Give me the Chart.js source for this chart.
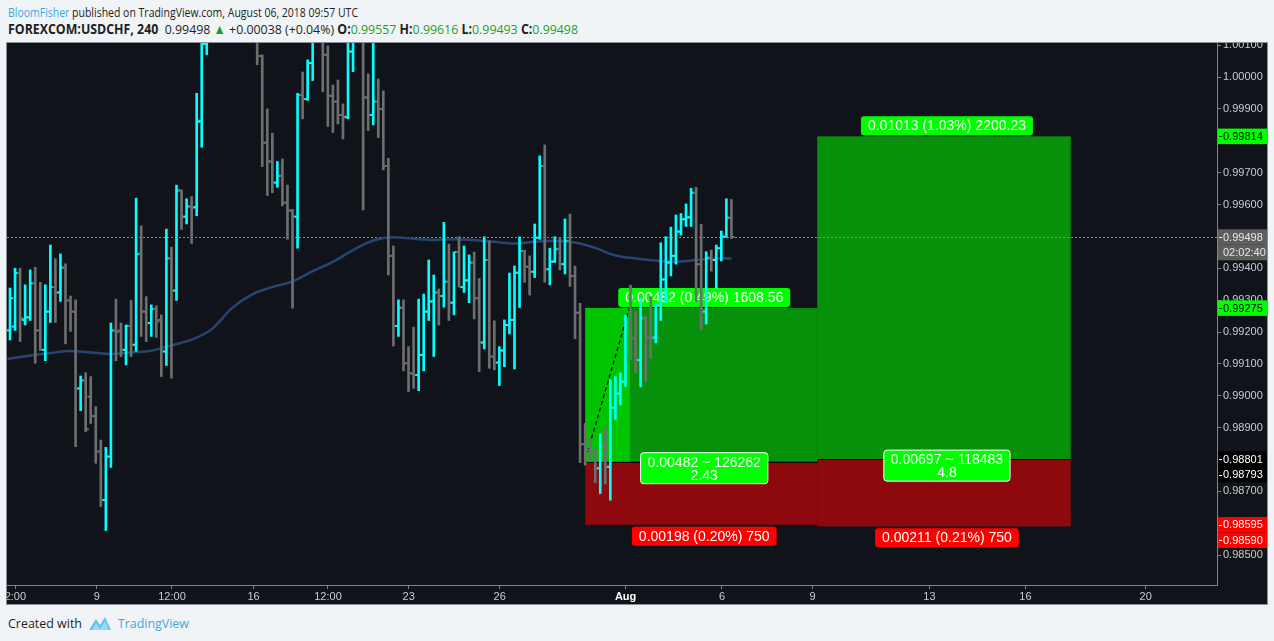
<!DOCTYPE html>
<html>
<head>
<meta charset="utf-8">
<script src="https://cdn.jsdelivr.net/npm/chart.js@4.4.0/dist/chart.umd.min.js"></script>
<style>
  html, body { margin: 0; padding: 0; background: #f1f4f7; }
  body { width: 1274px; height: 641px; position: relative; overflow: hidden; font-family: 'Open Sans', sans-serif; color: #1d1f23; }
  .fit { position: absolute; left: 8px; white-space: nowrap; display: inline-block; transform-origin: 0 50%; }
  #h1 { top: 3px; font-size: 13.5px; }
  #h2 { top: 20px; font-size: 13.5px; }
  #h1 .who { color: #3fa7dd; }
  #h2 b { font-weight: 700; }
  #h2 .g { color: #1f9f1f; }
  #wrap { position: absolute; left: 6px; top: 42px; width: 1260px; height: 561px; border: 1px solid #8b8f97; background: #10141a; }
  #foot { top: 614px; font-size: 13px; }
  #foot .tv { color: #3fa7dd; }
  #logo { position: absolute; left: 88px; top: 614px; }
</style>
</head>
<body>
<div id="h1" class="fit" data-w="350"><span class="who">BloomFisher</span> published on TradingView.com, August 06, 2018 09:57 UTC</div>
<div id="h2" class="fit" data-w="570"><b>FOREXCOM:USDCHF, 240</b>&nbsp; 0.99498 <span class="g">&#9650;</span> +0.00038 (+0.04%) <b>O:</b><span class="g">0.99557</span> <b>H:</b><span class="g">0.99616</span> <b>L:</b><span class="g">0.99493</span> <b>C:</b><span class="g">0.99498</span></div>
<div id="wrap"><canvas id="graph" width="1260" height="561"></canvas></div>
<div id="foot" class="fit" data-w="181">Created with <span style="display:inline-block;width:34px"></span><span class="tv">TradingView</span></div>
<svg id="logo" width="24" height="17" viewBox="0 0 24 17">
  <path d="M1 16 L8 5 L12 11 L17 3 L23 16 Z" fill="#64c3ec"/>
  <path d="M4 16 L8 9 L12 15 L17 7 L21 16 Z" fill="#9bd8f3"/>
</svg>
<script>
// bar index 1..144, 4h bars
var barOpen = [
  0.99205,0.99217,0.99385,0.99238,0.99246,0.99353,0.99205,0.99144,0.99264,0.99341,
  0.99324,0.99402,0.99299,0.99264,0.99023,0.99048,0.98997,0.98936,0.98825,0.98673,
  0.98809,0.99205,0.99205,0.99144,0.99219,0.99160,0.99447,0.99264,0.99228,0.99272,
  0.99238,0.99139,0.99431,0.99330,0.99644,0.99562,0.99594,0.99592,0.99863,1.00104,
  1.00210,1.00280,1.00230,1.00260,1.00340,1.00300,1.00250,1.00290,1.00240,1.00190,
  1.00066,0.99794,0.99735,0.99669,0.99690,0.99606,0.99581,0.99562,0.99944,0.99931,
  1.00044,1.00140,1.00200,1.00070,0.99941,0.99923,0.99881,0.99874,1.00080,1.00180,
  1.00200,0.99936,0.99881,0.99923,0.99900,0.99721,0.99439,0.99219,0.99276,0.99102,
  0.99070,0.99065,0.99128,0.99264,0.99296,0.99324,0.99313,0.99358,0.99292,0.99451,
  0.99341,0.99362,0.99418,0.99306,0.99167,0.99426,0.99123,0.99104,0.99142,0.99222,
  0.99238,0.99386,0.99454,0.99405,0.99389,0.99496,0.99721,0.99397,0.99421,0.99460,
  0.99413,0.99486,0.99376,0.99260,0.98848,0.98829,0.98826,0.98772,0.98840,0.98777,
  0.98962,0.99007,0.99044,0.99229,0.99180,0.99112,0.99243,0.99183,0.99183,0.99285,
  0.99365,0.99418,0.99439,0.99515,0.99554,0.99560,0.99637,0.99413,0.99264,0.99433,
  0.99426,0.99463,0.99499,0.99557
];
var barHigh = [
  0.99338,0.99400,0.99400,0.99348,0.99395,0.99403,0.99356,0.99348,0.99473,0.99430,
  0.99445,0.99414,0.99313,0.99301,0.99062,0.99072,0.99060,0.98966,0.98861,0.98838,
  0.99228,0.99303,0.99228,0.99222,0.99299,0.99620,0.99533,0.99311,0.99285,0.99282,
  0.99254,0.99523,0.99466,0.99661,0.99646,0.99618,0.99625,0.99949,1.00180,1.00260,
  1.00320,1.00350,1.00300,1.00380,1.00400,1.00360,1.00330,1.00340,1.00290,1.00230,
  1.00070,0.99900,0.99824,0.99735,0.99743,0.99661,0.99585,0.99949,1.00016,1.00054,
  1.00180,1.00260,1.00250,1.00098,0.99975,0.99991,0.99916,1.00150,1.00250,1.00280,
  1.00230,1.00010,1.00140,0.99994,0.99957,0.99745,0.99470,0.99301,0.99301,0.99154,
  0.99215,0.99303,0.99319,0.99426,0.99379,0.99335,0.99544,0.99476,0.99451,0.99499,
  0.99470,0.99442,0.99451,0.99368,0.99499,0.99486,0.99235,0.99154,0.99238,0.99385,
  0.99407,0.99499,0.99457,0.99439,0.99539,0.99753,0.99787,0.99463,0.99499,0.99496,
  0.99555,0.99570,0.99407,0.99290,0.98913,0.98866,0.98829,0.98880,0.98901,0.99049,
  0.99060,0.99072,0.99253,0.99347,0.99264,0.99305,0.99250,0.99311,0.99288,0.99480,
  0.99499,0.99529,0.99567,0.99572,0.99602,0.99651,0.99654,0.99538,0.99452,0.99457,
  0.99473,0.99517,0.99618,0.99616
];
var barLow = [
  0.99175,0.99205,0.99170,0.99222,0.99236,0.99102,0.99142,0.99110,0.99230,0.99230,
  0.99296,0.99163,0.99202,0.98840,0.98953,0.98887,0.98913,0.98788,0.98652,0.98577,
  0.98775,0.99110,0.99123,0.99097,0.99123,0.99139,0.99186,0.99170,0.99186,0.99183,
  0.99060,0.99095,0.99055,0.99299,0.99522,0.99539,0.99478,0.99565,0.99780,1.00070,
  1.00150,1.00190,1.00160,1.00220,1.00260,1.00200,1.00180,1.00210,1.00150,1.00039,
  0.99719,0.99628,0.99637,0.99654,0.99596,0.99491,0.99275,0.99463,0.99869,0.99927,
  0.99989,1.00130,0.99954,0.99845,0.99826,0.99853,0.99806,0.99869,1.00017,1.00140,
  0.99583,0.99832,0.99850,0.99810,0.99709,0.99379,0.99156,0.99186,0.99078,0.99013,
  0.99023,0.99016,0.99078,0.99236,0.99123,0.99222,0.99278,0.99236,0.99254,0.99341,
  0.99324,0.99292,0.99241,0.99076,0.99147,0.99086,0.99081,0.99032,0.99091,0.99194,
  0.99084,0.99277,0.99356,0.99316,0.99371,0.99491,0.99356,0.99348,0.99418,0.99395,
  0.99382,0.99343,0.99179,0.98790,0.98782,0.98798,0.98727,0.98693,0.98723,0.98672,
  0.98926,0.98971,0.99030,0.99112,0.99072,0.99028,0.99044,0.99117,0.99166,0.99236,
  0.99292,0.99376,0.99413,0.99504,0.99531,0.99531,0.99295,0.99208,0.99225,0.99391,
  0.99337,0.99423,0.99497,0.99493
];
var barClose = [
  0.99306,0.99385,0.99243,0.99246,0.99353,0.99205,0.99144,0.99264,0.99341,0.99324,
  0.99402,0.99299,0.99264,0.99023,0.99048,0.98895,0.98936,0.98825,0.98673,0.98809,
  0.99205,0.99200,0.99144,0.99219,0.99160,0.99444,0.99264,0.99228,0.99272,0.99233,
  0.99139,0.99431,0.99330,0.99644,0.99562,0.99594,0.99590,0.99860,1.00104,1.00210,
  1.00280,1.00230,1.00260,1.00340,1.00300,1.00250,1.00290,1.00240,1.00190,1.00066,
  0.99794,0.99735,0.99669,0.99690,0.99606,0.99581,0.99562,0.99944,0.99931,1.00044,
  1.00140,1.00200,1.00070,0.99941,0.99923,0.99881,0.99876,1.00080,1.00180,1.00220,
  0.99936,0.99881,0.99923,0.99900,0.99721,0.99439,0.99219,0.99276,0.99102,0.99070,
  0.99065,0.99128,0.99264,0.99296,0.99324,0.99313,0.99358,0.99292,0.99451,0.99341,
  0.99362,0.99418,0.99306,0.99167,0.99426,0.99123,0.99104,0.99142,0.99222,0.99238,
  0.99386,0.99454,0.99405,0.99389,0.99496,0.99721,0.99397,0.99421,0.99460,0.99413,
  0.99486,0.99376,0.99261,0.98848,0.98829,0.98826,0.98772,0.98840,0.98777,0.98962,
  0.99007,0.99044,0.99229,0.99180,0.99112,0.99243,0.99183,0.99180,0.99285,0.99365,
  0.99418,0.99439,0.99515,0.99554,0.99560,0.99637,0.99413,0.99264,0.99433,0.99426,
  0.99463,0.99499,0.99559,0.99498
];

// moving average, sampled every 4 bars
var maIdx = [0.5,1,5,9,13,17,21,25,29,33,37,41,45,49,53,57,61,65,69,73,77,81,85,89,93,97,101,105,109,113,117,121,125,129,133,137,141,144];
var maVal = [0.99116,0.99117,0.99126,0.99134,0.99140,0.99136,0.99131,0.99136,0.99141,0.99158,0.99176,0.99209,0.99275,0.99318,0.99341,0.99359,0.99391,0.99420,0.99457,0.99487,0.99497,0.99493,0.99489,0.99491,0.99489,0.99483,0.99478,0.99483,0.99486,0.99481,0.99464,0.99440,0.99431,0.99424,0.99420,0.99426,0.99431,0.99431];

var xTickPos = [2.07,18.19,33.11,49.27,64.03,80.03,98.07,123.02,142.13,160.07,183.25,202.27,226.11];
var xTickLabels = ['2:00','9','12:00','16','12:00','23','26','Aug','6','9','13','16','20'];
var yTickVals = [0.985,0.986,0.987,0.988,0.989,0.990,0.991,0.992,0.993,0.994,0.995,0.996,0.997,0.998,0.999,1.000,1.001];

// long position tools
var posLeft = [115.03, 161.0];
var posRight = [161.0, 211.25];
var posHit = [123.9, null];
var posEntry = [0.98793, 0.98801];
var posTarget = [0.99275, 0.99814];
var posStop = [0.98595, 0.98590];
var posTopText = ['0.00482 (0.49%) 1608.56', '0.01013 (1.03%) 2200.23'];
var posMidText = [['0.00482 ~ 126262', '2.43'], ['0.00697 ~ 118483', '4.8']];
var posBotText = ['0.00198 (0.20%) 750', '0.00211 (0.21%) 750'];
var pathFrom = [115.5, 0.98824];
var pathTo = [123.75, 0.99274];

var lastPrice = 0.99498;
var tagPrice = [0.99814, 0.99498, 0.99498, 0.99275, 0.98801, 0.98793, 0.98595, 0.98590];
var tagText = ['0.99814', '0.99498', '02:02:40', '0.99275', '0.98801', '0.98793', '0.98595', '0.98590'];
var tagBg = ['#00ff00', '#5e5e5e', '#5e5e5e', '#00ff00', '#000000', '#000000', '#ff0000', '#ff0000'];
var tagFg = ['#000000', '#e8e8e8', '#e8e8e8', '#000000', '#ffffff', '#ffffff', '#ffffff', '#ffffff'];

var UP = '#00ffff', DOWN = '#6e6e6e';
var barColors = barOpen.map(function (o, i) { return barClose[i] >= o ? UP : DOWN; });

function roundRect(ctx, x, y, w, h, r) {
  ctx.beginPath();
  ctx.moveTo(x + r, y);
  ctx.arcTo(x + w, y, x + w, y + h, r);
  ctx.arcTo(x + w, y + h, x, y + h, r);
  ctx.arcTo(x, y + h, x, y, r);
  ctx.arcTo(x, y, x + w, y, r);
  ctx.closePath();
}

function drawLabel(ctx, cx, top, lines, bg, border) {
  ctx.font = '14px "Liberation Sans", Arial, sans-serif';
  var w = 0;
  lines.forEach(function (t) { w = Math.max(w, ctx.measureText(t).width); });
  w += 14;
  var h = lines.length > 1 ? 31 : 19;
  roundRect(ctx, cx - w / 2, top, w, h, 3);
  ctx.fillStyle = bg;
  ctx.fill();
  if (border) { ctx.strokeStyle = border; ctx.lineWidth = 1; ctx.stroke(); }
  ctx.fillStyle = '#ffffff';
  ctx.textAlign = 'center';
  ctx.textBaseline = 'middle';
  lines.forEach(function (t, i) { ctx.fillText(t, cx, top + 10 + i * 13); });
}

var posTool = {
  id: 'posTool',
  beforeDatasetsDraw: function (chart) {
    var ctx = chart.ctx, a = chart.chartArea, x = chart.scales.x, y = chart.scales.y;
    ctx.save();
    ctx.beginPath(); ctx.rect(a.left, a.top, a.width, a.height); ctx.clip();
    for (var i = 0; i < posLeft.length; i++) {
      var x0 = x.getPixelForValue(posLeft[i]), x1 = x.getPixelForValue(posRight[i]);
      var yT = y.getPixelForValue(posTarget[i]), yE = y.getPixelForValue(posEntry[i]), yS = y.getPixelForValue(posStop[i]);
      ctx.fillStyle = '#07900a';
      ctx.fillRect(x0, yT, x1 - x0, yE - yT);
      ctx.fillStyle = '#8e090d';
      ctx.fillRect(x0, yE, x1 - x0, yS - yE);
      if (posHit[i] !== null) {
        var xh = x.getPixelForValue(posHit[i]);
        ctx.fillStyle = '#00c400';
        ctx.fillRect(x0, yT, xh - x0, yE - yT);
      }
      ctx.strokeStyle = '#000000';
      ctx.lineWidth = 1;
      ctx.beginPath(); ctx.moveTo(x0, Math.round(yE) + 0.5); ctx.lineTo(x1, Math.round(yE) + 0.5); ctx.stroke();
    }
    // last price dotted line
    var yl = Math.round(y.getPixelForValue(lastPrice)) + 0.5;
    ctx.strokeStyle = '#8a8a8a';
    ctx.setLineDash([2, 2]);
    ctx.beginPath(); ctx.moveTo(a.left, yl); ctx.lineTo(a.right, yl); ctx.stroke();
    // path of price to target
    ctx.strokeStyle = '#000000';
    ctx.lineWidth = 1.3;
    ctx.setLineDash([4, 3]);
    ctx.beginPath();
    ctx.moveTo(x.getPixelForValue(pathFrom[0]), y.getPixelForValue(pathFrom[1]));
    ctx.lineTo(x.getPixelForValue(pathTo[0]), y.getPixelForValue(pathTo[1]));
    ctx.stroke();
    ctx.setLineDash([]);
    for (var j = 0; j < posLeft.length; j++) {
      var cx = (x.getPixelForValue(posLeft[j]) + x.getPixelForValue(posRight[j])) / 2 + 3;
      drawLabel(ctx, cx, y.getPixelForValue(posTarget[j]) - 20, [posTopText[j]], '#00ff00');
      drawLabel(ctx, cx, y.getPixelForValue(posEntry[j]) - 9, posMidText[j], '#00ff00', '#ffffff');
      drawLabel(ctx, cx, y.getPixelForValue(posStop[j]) + 2, [posBotText[j]], '#ff0000');
    }
    ctx.restore();
  }
};

var axisTags = {
  id: 'axisTags',
  afterDraw: function (chart) {
    var ctx = chart.ctx, a = chart.chartArea, y = chart.scales.y;
    var left = a.right + 1, w = chart.width - left, h = 15.5, prev = -100;
    ctx.save();
    ctx.font = '11px "Liberation Sans", Arial, sans-serif';
    ctx.textBaseline = 'middle';
    ctx.textAlign = 'left';
    for (var i = 0; i < tagPrice.length; i++) {
      var cy = y.getPixelForValue(tagPrice[i]);
      if (cy - prev < h) cy = prev + h;
      prev = cy;
      ctx.fillStyle = tagBg[i];
      ctx.fillRect(left, cy - h / 2, w, h);
      ctx.fillStyle = tagFg[i];
      if (tagText[i].indexOf(':') < 0) ctx.fillRect(left + 1, Math.round(cy), 3, 1);
      ctx.fillText(tagText[i], a.right + 6, cy + 0.5);
    }
    ctx.restore();
  }
};

var datasets = [
  {
    type: 'bar',
    data: barLow.map(function (lo, i) { return { x: i + 1, y: [lo, barHigh[i]] }; }),
    backgroundColor: barColors,
    barThickness: 2,
    order: 2
  },
  {
    type: 'line',
    showLine: false,
    data: barOpen.map(function (v, i) { return { x: i + 1 - 0.4, y: v }; }),
    pointStyle: 'line',
    pointRadius: 1.2,
    pointBorderWidth: 2,
    pointBorderColor: barColors,
    pointBackgroundColor: barColors,
    order: 1
  },
  {
    type: 'line',
    showLine: false,
    data: barClose.map(function (v, i) { return { x: i + 1 + 0.4, y: v }; }),
    pointStyle: 'line',
    pointRadius: 1.2,
    pointBorderWidth: 2,
    pointBorderColor: barColors,
    pointBackgroundColor: barColors,
    order: 1
  },
  {
    type: 'line',
    data: maIdx.map(function (k, i) { return { x: k, y: maVal[i] }; }),
    borderColor: '#284572',
    borderWidth: 2.5,
    pointRadius: 0,
    cubicInterpolationMode: 'monotone',
    order: 3
  }
];

var config = {
  type: 'bar',
  data: { datasets: datasets },
  options: {
    responsive: false,
    animation: false,
    events: [],
    layout: { padding: 0, autoPadding: false },
    plugins: { legend: { display: false }, tooltip: { enabled: false } },
    scales: {
      x: {
        type: 'linear',
        min: 0.405,
        max: 240.25,
        offset: false,
        afterFit: function (s) { s.height = 19; s.paddingLeft = 0; s.paddingRight = 0; },
        afterBuildTicks: function (s) { s.ticks = xTickPos.map(function (v) { return { value: v }; }); },
        ticks: {
          autoSkip: false,
          maxRotation: 0,
          padding: 1,
          callback: function (v, i) { return xTickLabels[i]; },
          color: function (c) { return c.tick && c.tick.label === 'Aug' ? '#ffffff' : '#c9ccd3'; },
          font: function (c) {
            return { family: '"Liberation Sans", Arial, sans-serif', size: 11, weight: c.tick && c.tick.label === 'Aug' ? 'bold' : 'normal' };
          }
        },
        grid: { offset: false, drawOnChartArea: false, tickLength: 4, color: '#80848c' },
        border: { color: '#80848c' }
      },
      y: {
        position: 'right',
        min: 0.98406,
        max: 1.00107,
        afterFit: function (s) { s.width = 50; s.paddingTop = 0; s.paddingBottom = 0; },
        afterBuildTicks: function (s) { s.ticks = yTickVals.map(function (v) { return { value: v }; }); },
        ticks: {
          padding: 2,
          color: '#c9ccd3',
          font: { family: '"Liberation Sans", Arial, sans-serif', size: 11 },
          callback: function (v) { return v.toFixed(5); }
        },
        grid: { drawOnChartArea: false, tickLength: 4, color: '#80848c' },
        border: { color: '#80848c' }
      }
    }
  },
  plugins: [posTool, axisTags]
};

var graph = new Chart(document.getElementById('graph'), config);

// squeeze header/footer lines to the widths of the original
document.querySelectorAll('.fit').forEach(function (el) {
  var target = parseFloat(el.getAttribute('data-w'));
  var w = el.getBoundingClientRect().width;
  el.style.transform = 'scaleX(' + (target / w) + ')';
});
</script>
</body>
</html>
